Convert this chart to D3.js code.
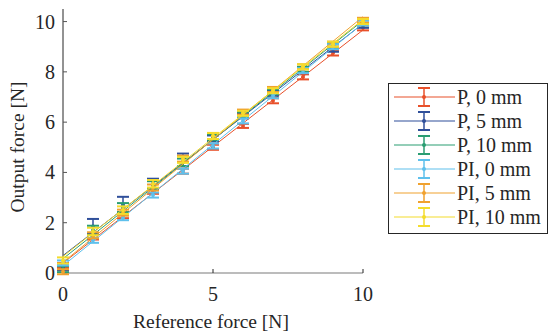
<!DOCTYPE html>
<html lang="en">
<head>
<meta charset="UTF-8" />
<script src="https://d3js.org/d3.v7.min.js"></script>
<style>
  body { margin: 0; background: #fff; }
  svg text { font-family: "Liberation Serif", "Times New Roman", serif; fill: #262626; }
</style>
</head>
<body>
<svg id="chart"></svg>
<script>
// reference force steps
const refForce = [0, 1, 2, 3, 4, 5, 6, 7, 8, 9, 10];

// mean output force per series
const p0   = [0.30, 1.45, 2.30, 3.25, 4.05, 5.00, 5.85, 6.85, 7.80, 8.75, 9.75];
const p5   = [0.20, 1.85, 2.70, 3.55, 4.50, 5.35, 6.25, 7.15, 8.05, 8.90, 9.85];
const p10  = [0.15, 1.70, 2.60, 3.50, 4.40, 5.40, 6.30, 7.20, 8.10, 9.05, 9.95];
const pi0  = [0.40, 1.30, 2.20, 3.10, 4.05, 5.05, 6.05, 7.05, 8.05, 9.00, 9.95];
const pi5  = [0.05, 1.50, 2.40, 3.40, 4.55, 5.45, 6.40, 7.30, 8.20, 9.10, 10.05];
const pi10 = [0.50, 1.65, 2.50, 3.55, 4.50, 5.45, 6.35, 7.25, 8.20, 9.10, 10.00];

// standard deviation per series
const p0Err   = [0.10, 0.12, 0.12, 0.10, 0.10, 0.10, 0.08, 0.10, 0.10, 0.10, 0.10];
const p5Err   = [0.10, 0.30, 0.33, 0.20, 0.25, 0.12, 0.10, 0.10, 0.10, 0.10, 0.10];
const p10Err  = [0.12, 0.18, 0.18, 0.15, 0.15, 0.12, 0.10, 0.10, 0.10, 0.10, 0.10];
const pi0Err  = [0.10, 0.10, 0.10, 0.10, 0.10, 0.10, 0.10, 0.10, 0.10, 0.10, 0.10];
const pi5Err  = [0.10, 0.12, 0.12, 0.12, 0.12, 0.12, 0.10, 0.10, 0.10, 0.10, 0.10];
const pi10Err = [0.12, 0.15, 0.15, 0.15, 0.12, 0.12, 0.10, 0.10, 0.10, 0.10, 0.10];

const seriesNames  = ["P, 0 mm", "P, 5 mm", "P, 10 mm", "PI, 0 mm", "PI, 5 mm", "PI, 10 mm"];
const seriesColors = ["#e8502a", "#2f4f9a", "#2a9d72", "#5ec0ec", "#f0a12e", "#f4dc2c"];
const xTicks = [0, 5, 10];
const yTicks = [0, 2, 4, 6, 8, 10];

const series = [
  { values: p0, err: p0Err }, { values: p5, err: p5Err }, { values: p10, err: p10Err },
  { values: pi0, err: pi0Err }, { values: pi5, err: pi5Err }, { values: pi10, err: pi10Err }
].map((s, i) => ({ ...s, name: seriesNames[i], color: seriesColors[i] }));

const width = 550, height = 332;
const svg = d3.select("#chart").attr("width", width).attr("height", height);

const x = d3.scaleLinear().domain([0, 10]).range([63, 363]);
const y = d3.scaleLinear().domain([0, 10.5]).range([273, 9]);

// least squares fit of each series
const fit = (xs, ys) => {
  const mx = d3.mean(xs), my = d3.mean(ys);
  const sxy = d3.sum(xs, (v, i) => (v - mx) * (ys[i] - my));
  const sxx = d3.sum(xs, v => (v - mx) ** 2);
  const b = sxy / sxx;
  return { a: my - b * mx, b: b };
};

// axes
svg.append("line")
  .attr("x1", x(0)).attr("x2", x(10)).attr("y1", y(0)).attr("y2", y(0))
  .attr("stroke", "#7a7a7a").attr("stroke-width", 1.2);
svg.append("line")
  .attr("x1", x(0)).attr("x2", x(0)).attr("y1", y(0)).attr("y2", y(10.5))
  .attr("stroke", "#262626").attr("stroke-width", 1);

svg.selectAll(".xtick").data(xTicks).enter().append("line")
  .attr("x1", d => x(d)).attr("x2", d => x(d)).attr("y1", y(0)).attr("y2", y(0) - 4)
  .attr("stroke", "#262626");
svg.selectAll(".xlab").data(xTicks).enter().append("text")
  .attr("x", d => x(d)).attr("y", 301)
  .attr("text-anchor", "middle").style("font-size", "20px")
  .text(d => d);

svg.selectAll(".ytick").data(yTicks).enter().append("line")
  .attr("x1", x(0)).attr("x2", x(0) + 4).attr("y1", d => y(d)).attr("y2", d => y(d))
  .attr("stroke", "#555");
svg.selectAll(".ylab").data(yTicks).enter().append("text")
  .attr("x", 55).attr("y", d => y(d) + 7)
  .attr("text-anchor", "end").style("font-size", "20px")
  .text(d => d);

svg.append("text")
  .attr("x", 211).attr("y", 328)
  .attr("text-anchor", "middle").style("font-size", "19.5px")
  .text("Reference force [N]");
svg.append("text")
  .attr("transform", "translate(24," + 147 + ") rotate(-90)")
  .attr("text-anchor", "middle").style("font-size", "19.5px")
  .text("Output force [N]");

// series
const cap = 6;
series.forEach(s => {
  const g = svg.append("g");
  const f = fit(refForce, s.values);
  g.append("line")
    .attr("x1", x(0)).attr("y1", y(f.a))
    .attr("x2", x(10)).attr("y2", y(f.a + f.b * 10))
    .attr("stroke", s.color).attr("stroke-width", 1);

  const pts = refForce.map((r, i) => ({ r: r, v: s.values[i], e: s.err[i] }));
  const bars = g.selectAll(".bar").data(pts).enter().append("g");
  bars.append("line")
    .attr("x1", d => x(d.r)).attr("x2", d => x(d.r))
    .attr("y1", d => y(d.v - d.e)).attr("y2", d => y(d.v + d.e))
    .attr("stroke", s.color).attr("stroke-width", 1.5);
  bars.append("line")
    .attr("x1", d => x(d.r) - cap).attr("x2", d => x(d.r) + cap)
    .attr("y1", d => y(d.v - d.e)).attr("y2", d => y(d.v - d.e))
    .attr("stroke", s.color).attr("stroke-width", 2);
  bars.append("line")
    .attr("x1", d => x(d.r) - cap).attr("x2", d => x(d.r) + cap)
    .attr("y1", d => y(d.v + d.e)).attr("y2", d => y(d.v + d.e))
    .attr("stroke", s.color).attr("stroke-width", 2);
  bars.append("circle")
    .attr("cx", d => x(d.r)).attr("cy", d => y(d.v)).attr("r", 2)
    .attr("fill", s.color);
});

// legend
const legend = svg.append("g");
legend.append("rect")
  .attr("x", 388.5).attr("y", 83.5).attr("width", 159).attr("height", 150)
  .attr("fill", "#fff").attr("stroke", "#262626").attr("stroke-width", 1);
const items = legend.selectAll(".item").data(series).enter().append("g")
  .attr("transform", (d, i) => "translate(0," + (97 + i * 24) + ")");
items.append("line")
  .attr("x1", 394).attr("x2", 455).attr("y1", 0).attr("y2", 0)
  .attr("stroke", d => d.color).attr("stroke-width", 1.2);
items.append("line")
  .attr("x1", 424).attr("x2", 424).attr("y1", -9).attr("y2", 9)
  .attr("stroke", d => d.color).attr("stroke-width", 1.5);
items.append("line")
  .attr("x1", 424 - cap).attr("x2", 424 + cap).attr("y1", -9).attr("y2", -9)
  .attr("stroke", d => d.color).attr("stroke-width", 2);
items.append("line")
  .attr("x1", 424 - cap).attr("x2", 424 + cap).attr("y1", 9).attr("y2", 9)
  .attr("stroke", d => d.color).attr("stroke-width", 2);
items.append("circle")
  .attr("cx", 424).attr("cy", 0).attr("r", 2).attr("fill", d => d.color);
items.append("text")
  .attr("x", 457).attr("y", 7).style("font-size", "20px")
  .text(d => d.name);
</script>
</body>
</html>
